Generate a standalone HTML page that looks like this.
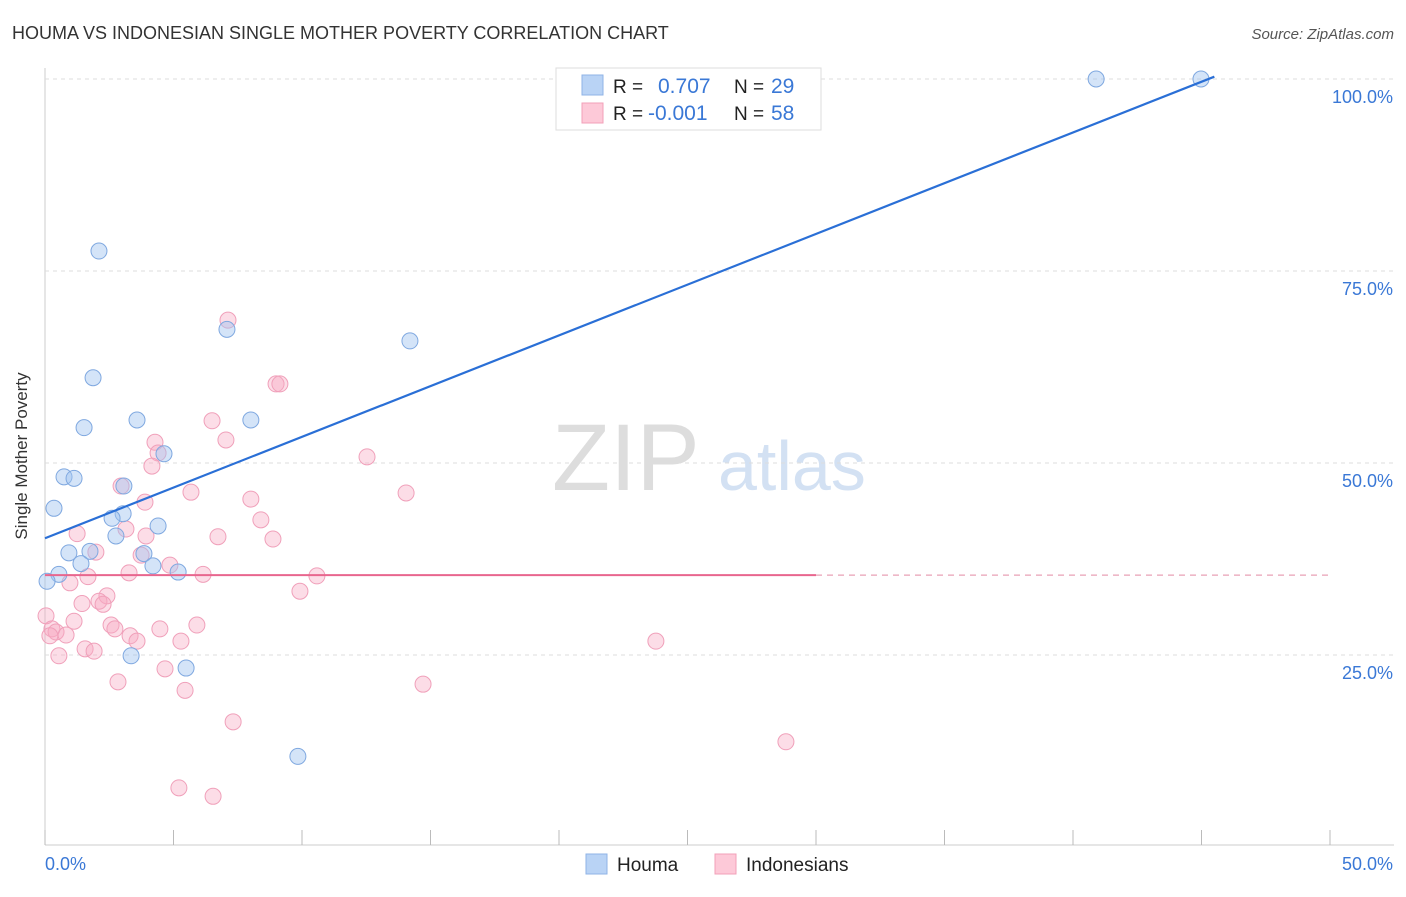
<!DOCTYPE html>
<html><head><meta charset="utf-8"><style>
body{margin:0;background:#fff;font-family:"Liberation Sans",sans-serif;}
svg text{font-family:"Liberation Sans",sans-serif;}
</style></head><body>
<svg id="c" width="1406" height="892" xmlns="http://www.w3.org/2000/svg">
<text x="12" y="39" font-size="18" fill="#333">HOUMA VS INDONESIAN SINGLE MOTHER POVERTY CORRELATION CHART</text>
<text x="1394" y="39" font-size="15" fill="#555" text-anchor="end" font-style="italic">Source: ZipAtlas.com</text>
<text x="27" y="456" font-size="17" fill="#333" text-anchor="middle" transform="rotate(-90 27 456)">Single Mother Poverty</text>
<text x="552" y="490" font-size="95" fill="#ddd" font-family="Liberation Serif">ZIP</text>
<text x="718" y="490" font-size="70" fill="#d3e1f3">atlas</text>
<g id="grid"></g><g id="pts"></g><g id="lines"></g>
<g>
<rect x="556" y="68" width="265" height="62" fill="#fff" stroke="#ddd"/>
<rect x="582" y="75" width="21" height="20" fill="#b9d3f5" stroke="#8fb3e6"/>
<rect x="582" y="103" width="21" height="20" fill="#fdc9d8" stroke="#f2a0b8"/>
<text x="613" y="93" font-size="19" fill="#222">R =</text><text x="658" y="93" font-size="21" fill="#3a78d6">0.707</text>
<text x="734" y="93" font-size="19" fill="#222">N =</text><text x="771" y="93" font-size="21" fill="#3a78d6">29</text>
<text x="613" y="120" font-size="19" fill="#222">R =</text><text x="648" y="120" font-size="21" fill="#3a78d6">-0.001</text>
<text x="734" y="120" font-size="19" fill="#222">N =</text><text x="771" y="120" font-size="21" fill="#3a78d6">58</text>
</g>
<g>
<rect x="586" y="854" width="21" height="20" fill="#b9d3f5" stroke="#8fb3e6"/>
<text x="617" y="871" font-size="19" fill="#222">Houma</text>
<rect x="715" y="854" width="21" height="20" fill="#fdc9d8" stroke="#f2a0b8"/>
<text x="746" y="871" font-size="19" fill="#222">Indonesians</text>
</g>
</svg>
<script>
const yTicks=[25,50,75,100];
const yTickLabels=["25.0%","50.0%","75.0%","100.0%"];
const xTickLabels=["0.0%","50.0%"];
const houmaX=[40.9,44.98,2.1,7.08,14.2,1.87,3.58,8.01,1.52,4.63,0.74,1.13,3.07,0.35,3.04,2.61,4.4,2.76,0.93,1.75,3.85,1.4,4.2,5.18,0.54,0.08,3.35,5.49,9.84];
const houmaY=[100,100,77.6,67.4,65.9,61.1,55.6,55.6,54.6,51.2,48.2,48.0,47.0,44.1,43.4,42.8,41.8,40.5,38.3,38.5,38.2,36.9,36.6,35.8,35.5,34.6,24.9,23.3,11.8];
const indoX=[7.12,8.99,9.14,6.5,4.28,7.04,4.4,4.16,12.53,5.68,14.05,2.96,3.89,8.01,8.4,1.25,6.73,3.15,3.93,8.87,1.98,3.74,4.86,3.27,1.67,6.15,10.58,0.97,9.92,2.41,2.1,1.44,2.26,0.04,1.13,2.57,5.91,4.47,2.72,0.27,0.43,0.82,0.19,3.31,3.58,5.29,23.77,1.56,1.91,0.54,4.67,2.84,5.45,14.71,7.32,28.83,5.21,6.54];
const indoY=[68.6,60.3,60.3,55.5,52.7,53.0,51.3,49.6,50.8,46.2,46.1,47.0,44.9,45.3,42.6,40.8,40.4,41.4,40.5,40.1,38.4,38.0,36.7,35.7,35.2,35.5,35.3,34.4,33.3,32.7,32.0,31.7,31.6,30.1,29.4,28.9,28.9,28.4,28.4,28.4,28.0,27.6,27.5,27.5,26.8,26.8,26.8,25.8,25.5,24.9,23.2,21.5,20.4,21.2,16.3,13.7,7.7,6.6];
const X=v=>45+v*25.7, Y=v=>847-v*7.68;
const NS="http://www.w3.org/2000/svg";
function mk(t,a,p){const e=document.createElementNS(NS,t);for(const k in a)e.setAttribute(k,a[k]);p.appendChild(e);return e;}
const g=document.getElementById('grid');
mk('line',{x1:45,y1:68,x2:45,y2:845,stroke:'#ccc'},g);
mk('line',{x1:45,y1:845,x2:1394,y2:845,stroke:'#ccc'},g);
for(let i=0;i<=10;i++){mk('line',{x1:X(i*5),y1:830,x2:X(i*5),y2:845,stroke:'#bbb'},g);}
yTicks.forEach((t,i)=>{
 const l=mk('line',{x1:45,y1:Y(t),x2:1394,y2:Y(t),stroke:'#ddd','stroke-dasharray':'4,4'},g);
 
 
 const tx=mk('text',{x:1393,y:Y(t)+24,'font-size':18,fill:'#3a78d6','text-anchor':'end'},g);tx.textContent=yTickLabels[i];
 
 
});
const x0=mk('text',{x:45,y:870,'font-size':18,fill:'#3a78d6'},g);x0.textContent=xTickLabels[0];


const x1=mk('text',{x:1393,y:870,'font-size':18,fill:'#3a78d6','text-anchor':'end'},g);x1.textContent=xTickLabels[1];


const p=document.getElementById('pts');
indoX.forEach((v,i)=>{const c=mk('circle',{cx:X(v),cy:Y(indoY[i]),r:8,fill:'rgba(248,170,195,0.4)',stroke:'#f0a0ba','stroke-width':1},p);
 
 });
houmaX.forEach((v,i)=>{const c=mk('circle',{cx:X(v),cy:Y(houmaY[i]),r:8,fill:'rgba(160,195,240,0.45)',stroke:'#7fa8e0','stroke-width':1},p);
 
 });
const L=document.getElementById('lines');
const bl=mk('line',{x1:X(0),y1:Y(40.2),x2:X(45.5),y2:Y(100.3),stroke:'#2a6fd6','stroke-width':2.2},L);


const pl=mk('line',{x1:X(0),y1:Y(35.4),x2:X(30),y2:Y(35.4),stroke:'#e8668e','stroke-width':2},L);


const pd=mk('line',{x1:X(30),y1:Y(35.4),x2:X(50),y2:Y(35.4),stroke:'#e8a0b5','stroke-width':1.2,'stroke-dasharray':'6,5'},L);


</script>
</body></html>
